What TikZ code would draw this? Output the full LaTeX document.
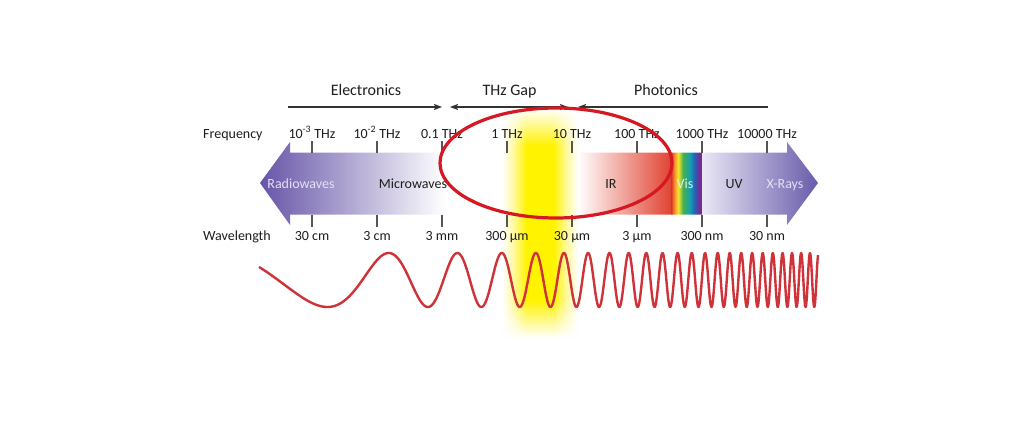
\documentclass[tikz,border=0pt]{standalone}
\usepackage{fontspec}
\setmainfont{Carlito}
\usetikzlibrary{arrows.meta,fadings}
\definecolor{txt}{RGB}{30,30,30}
\definecolor{pdark}{RGB}{98,80,165}
\definecolor{pdarkr}{RGB}{100,86,168}
\definecolor{plight}{RGB}{234,231,245}
\definecolor{irred}{RGB}{224,66,48}
\definecolor{rbR}{RGB}{226,60,40}
\definecolor{rbO}{RGB}{245,150,40}
\definecolor{rbY}{RGB}{245,228,50}
\definecolor{rbG}{RGB}{70,175,80}
\definecolor{rbT}{RGB}{20,160,175}
\definecolor{rbB}{RGB}{40,95,180}
\definecolor{rbV}{RGB}{115,45,150}
\definecolor{yel}{RGB}{255,243,0}
\definecolor{yelsoft}{RGB}{255,249,150}
\definecolor{wavec}{RGB}{208,50,58}
\definecolor{ringc}{RGB}{214,24,34}
\definecolor{tickc}{RGB}{85,85,85}
\definecolor{lavtxt}{RGB}{228,225,242}
\definecolor{vistxt}{RGB}{220,240,236}
\pgfdeclarehorizontalshading{rainbowsh}{100bp}{color(0bp)=(rbR); color(25bp)=(rbR); color(30bp)=(rbO); color(36bp)=(rbY); color(44bp)=(rbG); color(55bp)=(rbT); color(63bp)=(rbB); color(70bp)=(rbV); color(75bp)=(rbV); color(100bp)=(rbV)}
\pgfdeclarehorizontalshading{yelsh}{100bp}{color(0bp)=(white); color(25bp)=(white); color(33bp)=(yelsoft); color(41bp)=(yel); color(59bp)=(yel); color(67bp)=(yelsoft); color(75bp)=(white); color(100bp)=(white)}
\tikzfading[name=fadeup, top color=transparent!100, bottom color=transparent!0]
\tikzfading[name=fadedown, top color=transparent!0, bottom color=transparent!100]
\tikzset{
  lbl/.style={font=\fontsize{14}{16}\selectfont, text=txt, inner sep=0pt, anchor=base},
  hlbl/.style={font=\fontsize{16}{18}\selectfont, text=txt, inner sep=0pt, anchor=base},
  hdr/.style={draw=black!80, line width=1.1pt},
  tk/.style={draw=tickc, line width=1.3pt},
  wave/.style={draw=wavec, line width=2.4pt, line join=round},
  ring/.style={draw=ringc, line width=3.2pt}
}
\begin{document}
\begin{tikzpicture}[x=1pt, y=-1pt,
  declare function={uu(\t)=(\t-259)/100; nn(\t)=0.17+0.4122*uu(\t)+0.0211*uu(\t)^2+0.1191*uu(\t)^3;}]
\useasboundingbox (0,0) rectangle (1035,425);
\fill[white] (0,0) rectangle (1035,425);
% spectrum band
\begin{scope}
\clip (260,183) -- (290,142) -- (290,152.5) -- (787,152.5) -- (787,142) -- (818,183) -- (787,225) -- (787,214.5) -- (290,214.5) -- (290,225) -- cycle;
\shade[left color=pdark, right color=white] (255,138) rectangle (445,230);
\shade[left color=white, right color=irred] (578,138) rectangle (672,230);
\shade[shading=rainbowsh] (671.5,138) rectangle (702,230);
\shade[left color=plight, right color=pdarkr] (702,138) rectangle (822,230);
\end{scope}
% THz gap highlight
\shade[shading=yelsh, path fading=fadeup] (502,108) rectangle (578,146);
\shade[shading=yelsh] (502,145.5) rectangle (578,300.5);
\shade[shading=yelsh, path fading=fadedown] (502,300) rectangle (578,338);
% ticks
\foreach \tx in {312,377,442,507,572,637,702,767}{
  \draw[tk] (\tx,141) -- (\tx,152.5);
  \draw[tk] (\tx,214.5) -- (\tx,227);
}
% headers
\node[hlbl] (electronics) at (366,96) {Electronics};
\node[hlbl] (thzgap) at (509.5,96) {THz Gap};
\node[hlbl] (photonics) at (666,96) {Photonics};
\coordinate (e1) at (288,107);
\coordinate (e2) at (442,107);
\coordinate (g1) at (450,107);
\coordinate (g2) at (568,107);
\coordinate (p1) at (768,107);
\coordinate (p2) at (578,107);
\draw[hdr, -{Stealth[length=8pt,width=6pt,inset=1.5pt]}] (e1) -- (e2);
\draw[hdr, {Stealth[length=8pt,width=6pt,inset=1.5pt]}-{Stealth[length=8pt,width=6pt,inset=1.5pt]}] (g1) -- (g2);
\draw[hdr, -{Stealth[length=8pt,width=6pt,inset=1.5pt]}] (p1) -- (p2);
% frequency row
\node[lbl, anchor=base west] (freq) at (203,138) {Frequency};
\node[lbl] (f1) at (312,138) {10\textsuperscript{-3} THz};
\node[lbl] (f2) at (377,138) {10\textsuperscript{-2} THz};
\node[lbl] (f3) at (442,138) {0.1 THz};
\node[lbl] (f4) at (507,138) {1 THz};
\node[lbl] (f5) at (572,138) {10 THz};
\node[lbl] (f6) at (637,138) {100 THz};
\node[lbl] (f7) at (702,138) {1000 THz};
\node[lbl] (f8) at (767,138) {10000 THz};
% wavelength row
\node[lbl, anchor=base west] (wl) at (203,240) {Wavelength};
\node[lbl] (w1) at (312,240) {30 cm};
\node[lbl] (w2) at (377,240) {3 cm};
\node[lbl] (w3) at (442,240) {3 mm};
\node[lbl] (w4) at (507,240) {300 µm};
\node[lbl] (w5) at (572,240) {30 µm};
\node[lbl] (w6) at (637,240) {3 µm};
\node[lbl] (w7) at (702,240) {300 nm};
\node[lbl] (w8) at (767,240) {30 nm};
% band labels
\node[lbl, text=lavtxt] (radio) at (301,188) {Radiowaves};
\node[lbl] (micro) at (413,188) {Microwaves};
\node[lbl] (ir) at (611,188) {IR};
\node[lbl, text=vistxt] (vis) at (685,188) {Vis};
\node[lbl] (uv) at (734,188) {UV};
\node[lbl, text=lavtxt] (xray) at (785,188) {X-Rays};
% wave
\draw[wave] plot[domain=259:818, samples=1400] (\x, {280-27*cos(360*nn(\x))});
% ring
\draw[ring] (556,163) ellipse [x radius=116, y radius=55];
\end{tikzpicture}
\end{document}
